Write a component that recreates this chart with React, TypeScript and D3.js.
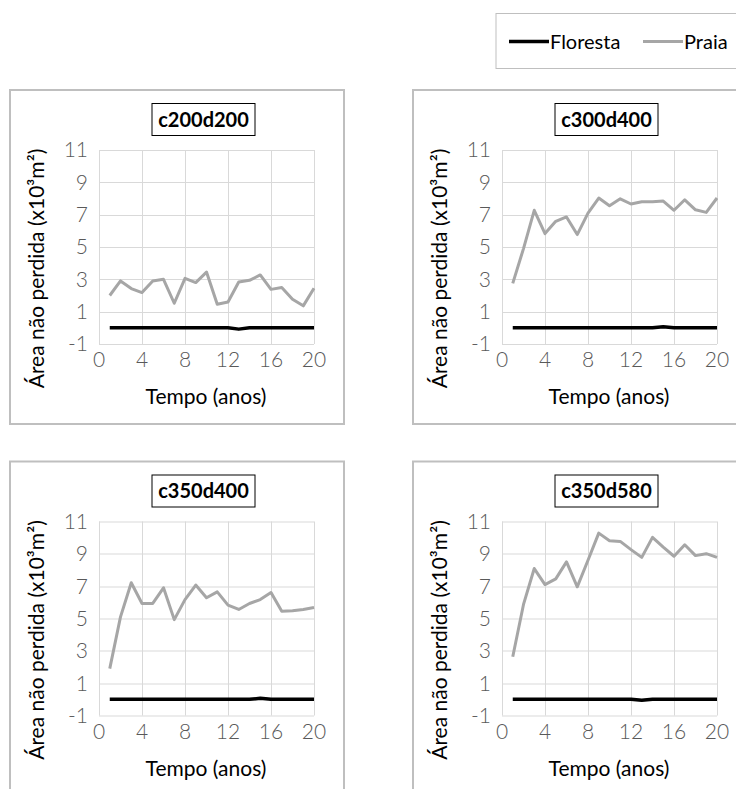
import React, { useEffect, useRef } from "react";
import * as d3 from "d3";

// years 1..20
const years = d3.range(1, 21);

const panelNames = ["c200d200", "c300d400", "c350d400", "c350d580"];

const praiaC200d200 = [2.0, 2.9, 2.43, 2.18, 2.9, 3.0, 1.52, 3.06, 2.8, 3.45, 1.46, 1.6, 2.84, 2.94, 3.27, 2.38, 2.49, 1.77, 1.36, 2.45];
const florestaC200d200 = [0, 0, 0, 0, 0, 0, 0, 0, 0, 0, 0, 0, -0.08, 0, 0, 0, 0, 0, 0, 0];

const praiaC300d400 = [2.75, 4.9, 7.27, 5.83, 6.59, 6.86, 5.77, 7.1, 8.03, 7.55, 7.98, 7.66, 7.8, 7.8, 7.84, 7.27, 7.92, 7.3, 7.14, 8.03];
const florestaC300d400 = [0, 0, 0, 0, 0, 0, 0, 0, 0, 0, 0, 0, 0, 0, 0.06, 0, 0, 0, 0, 0];

const praiaC350d400 = [1.9, 5.1, 7.21, 5.93, 5.93, 6.9, 4.93, 6.17, 7.07, 6.28, 6.65, 5.83, 5.56, 5.93, 6.17, 6.61, 5.45, 5.48, 5.56, 5.68];
const florestaC350d400 = [0, 0, 0, 0, 0, 0, 0, 0, 0, 0, 0, 0, 0, 0, 0.06, 0, 0, 0, 0, 0];

const praiaC350d580 = [2.63, 5.87, 8.09, 7.1, 7.45, 8.5, 6.96, 8.6, 10.28, 9.81, 9.77, 9.26, 8.78, 10.02, 9.42, 8.85, 9.56, 8.89, 9.01, 8.78];
const florestaC350d580 = [0, 0, 0, 0, 0, 0, 0, 0, 0, 0, 0, 0, -0.06, 0, 0, 0, 0, 0, 0, 0];

const praiaSeries = [praiaC200d200, praiaC300d400, praiaC350d400, praiaC350d580];
const florestaSeries = [florestaC200d200, florestaC300d400, florestaC350d400, florestaC350d580];

const xTicks = [0, 4, 8, 12, 16, 20];
const yTicks = [-1, 1, 3, 5, 7, 9, 11];

const FONT = "Lato, 'Open Sans', sans-serif";

export default function App() {
  const ref = useRef<SVGSVGElement>(null);

  useEffect(() => {
    const svg = d3.select(ref.current);
    svg.selectAll("*").remove();

    // panel origins
    const origins = [
      [10, 90],
      [413, 90],
      [10, 461.5],
      [413, 461.5],
    ];
    const pw = 334;
    const ph = 334;

    const x = d3.scaleLinear().domain([0, 20]).range([89, 304]);
    const y = d3.scaleLinear().domain([-1, 11]).range([254, 60]);

    panelNames.forEach((name, i) => {
      const g = svg.append("g").attr("transform", `translate(${origins[i][0]},${origins[i][1]})`);

      // panel frame
      g.append("rect")
        .attr("width", pw)
        .attr("height", ph)
        .attr("fill", "#fff")
        .attr("stroke", "#bfbfbf")
        .attr("stroke-width", 2);

      // gridlines
      g.selectAll(".hg")
        .data(yTicks)
        .enter()
        .append("line")
        .attr("x1", x(0))
        .attr("x2", x(20))
        .attr("y1", (d) => Math.round(y(d)) + 0.5)
        .attr("y2", (d) => Math.round(y(d)) + 0.5)
        .attr("stroke", "#d9d9d9")
        .attr("stroke-width", 1);
      g.selectAll(".vg")
        .data(xTicks)
        .enter()
        .append("line")
        .attr("x1", (d) => Math.round(x(d)) + 0.5)
        .attr("x2", (d) => Math.round(x(d)) + 0.5)
        .attr("y1", y(11))
        .attr("y2", y(-1))
        .attr("stroke", "#d9d9d9")
        .attr("stroke-width", 1);

      // tick labels
      g.selectAll(".yt")
        .data(yTicks)
        .enter()
        .append("text")
        .attr("x", 78)
        .attr("y", (d) => y(d))
        .attr("dy", "0.35em")
        .attr("text-anchor", "end")
        .attr("font-family", FONT)
        .attr("font-weight", 300)
        .attr("font-size", 21)
        .attr("fill", "#595959")
        .text((d) => d);
      g.selectAll(".xt")
        .data(xTicks)
        .enter()
        .append("text")
        .attr("x", (d) => x(d))
        .attr("y", 270)
        .attr("dy", "0.35em")
        .attr("text-anchor", "middle")
        .attr("font-family", FONT)
        .attr("font-weight", 300)
        .attr("font-size", 21)
        .attr("fill", "#595959")
        .text((d) => d);

      // lines
      const line = d3
        .line<number>()
        .x((_, j) => x(years[j]))
        .y((d) => y(d));
      g.append("path")
        .attr("d", line(praiaSeries[i]))
        .attr("fill", "none")
        .attr("stroke", "#a6a6a6")
        .attr("stroke-width", 3)
        .attr("stroke-linejoin", "round");
      g.append("path")
        .attr("d", line(florestaSeries[i]))
        .attr("fill", "none")
        .attr("stroke", "#000")
        .attr("stroke-width", 3.5)
        .attr("stroke-linejoin", "round");

      // title box
      g.append("rect")
        .attr("x", 142)
        .attr("y", 13.5)
        .attr("width", 103)
        .attr("height", 32)
        .attr("fill", "#fff")
        .attr("stroke", "#000")
        .attr("stroke-width", 1);
      g.append("text")
        .attr("x", 193.5)
        .attr("y", 29.5)
        .attr("dy", "0.35em")
        .attr("text-anchor", "middle")
        .attr("font-family", FONT)
        .attr("font-weight", "bold")
        .attr("font-size", 20)
        .attr("fill", "#000")
        .text(name);

      // axis titles
      g.append("text")
        .attr("x", 196)
        .attr("y", 307)
        .attr("dy", "0.35em")
        .attr("text-anchor", "middle")
        .attr("font-family", FONT)
        .attr("font-size", 21)
        .attr("fill", "#000")
        .text("Tempo (anos)");
      g.append("text")
        .attr("transform", `translate(27,178.5) rotate(-90)`)
        .attr("dy", "0.35em")
        .attr("text-anchor", "middle")
        .attr("font-family", FONT)
        .attr("font-size", 21)
        .attr("fill", "#000")
        .text("Área não perdida (x10³m²)");
    });

    // legend
    const lg = svg.append("g");
    lg.append("rect")
      .attr("x", 496)
      .attr("y", 13.5)
      .attr("width", 250)
      .attr("height", 55)
      .attr("fill", "#fff")
      .attr("stroke", "#bfbfbf")
      .attr("stroke-width", 1);
    const items = [
      { label: "Floresta", color: "#000", w: 3.5, x0: 509 },
      { label: "Praia", color: "#a6a6a6", w: 3, x0: 643 },
    ];
    items.forEach((it) => {
      lg.append("line")
        .attr("x1", it.x0)
        .attr("x2", it.x0 + 40)
        .attr("y1", 41.5)
        .attr("y2", 41.5)
        .attr("stroke", it.color)
        .attr("stroke-width", it.w);
      lg.append("text")
        .attr("x", it.x0 + 41)
        .attr("y", 41.5)
        .attr("dy", "0.35em")
        .attr("font-family", FONT)
        .attr("font-size", 20)
        .attr("fill", "#000")
        .text(it.label);
    });
  }, []);

  return (
    <svg
      ref={ref}
      width={736}
      height={789}
      style={{ position: "absolute", left: 0, top: 0, background: "#fff" }}
    />
  );
}
